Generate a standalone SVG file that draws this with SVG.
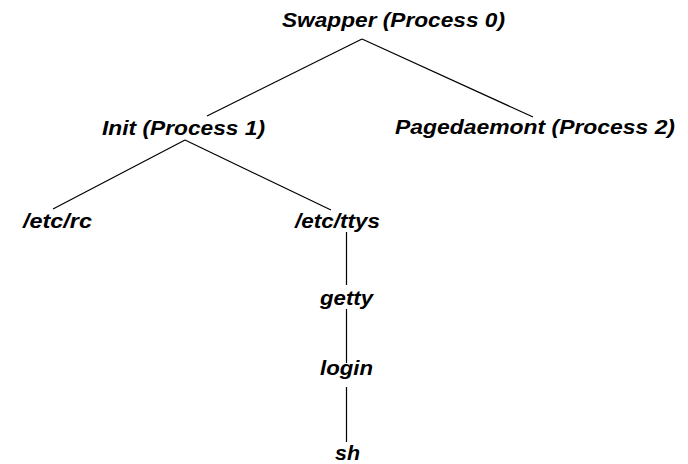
<svg xmlns="http://www.w3.org/2000/svg" width="688" height="464" viewBox="0 0 688 464">
<style>
text{font-family:"Liberation Sans",Arial,sans-serif;font-weight:bold;font-style:italic;font-size:19.5px;fill:#000;text-anchor:start}
.c line{stroke:#000;stroke-width:1.2}
</style>
<rect width="688" height="464" fill="#fff"/>
<g class="c" id="connectors">
<line x1="362" y1="39" x2="207" y2="116"/>
<line x1="362" y1="39" x2="533" y2="117"/>
<line x1="185" y1="140" x2="53" y2="209"/>
<line x1="185" y1="140" x2="331" y2="210"/>
<line x1="346.5" y1="232" x2="346.5" y2="285"/>
<line x1="346.5" y1="309" x2="346.5" y2="363"/>
<line x1="346.5" y1="387" x2="346.5" y2="442"/>
</g>
<g id="swapper"><text x="282" y="27" textLength="223" lengthAdjust="spacingAndGlyphs">Swapper (Process 0)</text></g>
<g id="init"><text x="102" y="135" textLength="163" lengthAdjust="spacingAndGlyphs">Init (Process 1)</text></g>
<g id="pagedaemont"><text x="395" y="134" textLength="280" lengthAdjust="spacingAndGlyphs">Pagedaemont (Process 2)</text></g>
<g id="etcrc"><text x="23" y="228" textLength="69" lengthAdjust="spacingAndGlyphs">/etc/rc</text></g>
<g id="etcttys"><text x="295" y="228" textLength="85" lengthAdjust="spacingAndGlyphs">/etc/ttys</text></g>
<g id="getty"><text x="320" y="305" textLength="53" lengthAdjust="spacingAndGlyphs">getty</text></g>
<g id="login"><text x="320" y="375" textLength="53" lengthAdjust="spacingAndGlyphs">login</text></g>
<g id="sh"><text x="335" y="460" textLength="25" lengthAdjust="spacingAndGlyphs">sh</text></g>
</svg>
